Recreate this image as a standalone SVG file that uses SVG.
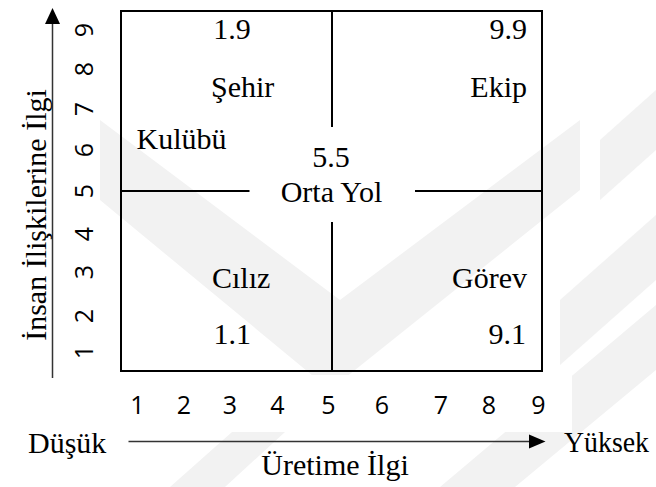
<svg xmlns="http://www.w3.org/2000/svg" width="656" height="487" viewBox="0 0 656 487">
  <style>
    .serif { font-family: "Liberation Serif", "Times New Roman", serif; font-size: 30px; fill: #000; }
    .num { font-family: "Open Sans", "Liberation Sans", sans-serif; font-size: 25px; fill: #000; }
    .wm { fill: #f2f2f2; }
    .box { fill: none; stroke: #000; stroke-width: 2; }
    .div { stroke: #000; stroke-width: 2; fill: none; }
    .axis { stroke: #333; stroke-width: 1.5; fill: none; }
  </style>
  <rect width="656" height="487" fill="#fff"/>
  <g id="watermark">
    <polygon class="wm" points="100,120 340,300 580,120 580,190 330,390 100,200"/>
    <polygon class="wm" points="600,140 656,90 656,150 600,200"/>
    <polygon class="wm" points="560,300 656,215 656,280 560,365"/>
    <polygon class="wm" points="440,487 656,305 656,370 515,487"/>
    <polygon class="wm" points="170,487 232,432 285,432 225,487"/>
  </g>
  <rect x="249.5" y="127" width="165" height="95" fill="#fff"/>
  <rect x="118" y="375" width="454" height="57" fill="#fff"/>
  <g id="grid">
    <rect class="box" x="121" y="11" width="421" height="360"/>
    <line class="div" x1="332" y1="11" x2="332" y2="127"/>
    <line class="div" x1="332" y1="222" x2="332" y2="371"/>
    <line class="div" x1="121" y1="191" x2="249.5" y2="191"/>
    <line class="div" x1="415" y1="191" x2="542" y2="191"/>
  </g>
  <g id="connectors">
    <line class="axis" x1="52.5" y1="378" x2="52.5" y2="22"/>
    <polygon points="52.5,8 45,24 60,24" fill="#000"/>
    <line class="axis" x1="128.5" y1="441.5" x2="531" y2="441.5"/>
    <polygon points="545.5,441.5 529,434.5 529,448.5" fill="#000"/>
  </g>
  <g id="node-sehir">
    <text class="serif" x="232" y="39" text-anchor="middle">1.9</text>
    <text class="serif" x="211" y="97">Şehir</text>
    <text class="serif" x="136.5" y="148.5">Kulübü</text>
  </g>
  <g id="node-ekip">
    <text class="serif" x="527" y="39" text-anchor="end">9.9</text>
    <text class="serif" x="527" y="97" text-anchor="end">Ekip</text>
  </g>
  <g id="node-orta">
    <text class="serif" x="331" y="166.5" text-anchor="middle">5.5</text>
    <text class="serif" x="331.5" y="202" text-anchor="middle">Orta Yol</text>
  </g>
  <g id="node-ciliz">
    <text class="serif" x="212" y="288">Cılız</text>
    <text class="serif" x="213.5" y="344">1.1</text>
  </g>
  <g id="node-gorev">
    <text class="serif" x="527" y="288" text-anchor="end">Görev</text>
    <text class="serif" x="526" y="344" text-anchor="end">9.1</text>
  </g>
  <g id="x-scale">
    <text class="num" x="137.5" y="414" text-anchor="middle">1</text>
    <text class="num" x="184" y="414" text-anchor="middle">2</text>
    <text class="num" x="230" y="414" text-anchor="middle">3</text>
    <text class="num" x="277.5" y="414" text-anchor="middle">4</text>
    <text class="num" x="328.5" y="414" text-anchor="middle">5</text>
    <text class="num" x="382" y="414" text-anchor="middle">6</text>
    <text class="num" x="441" y="414" text-anchor="middle">7</text>
    <text class="num" x="489" y="414" text-anchor="middle">8</text>
    <text class="num" x="538.5" y="414" text-anchor="middle">9</text>
  </g>
  <g id="y-scale">
    <text class="num" transform="translate(93,352) rotate(-90)" text-anchor="middle">1</text>
    <text class="num" transform="translate(93,316) rotate(-90)" text-anchor="middle">2</text>
    <text class="num" transform="translate(93,272) rotate(-90)" text-anchor="middle">3</text>
    <text class="num" transform="translate(93,234) rotate(-90)" text-anchor="middle">4</text>
    <text class="num" transform="translate(93,191) rotate(-90)" text-anchor="middle">5</text>
    <text class="num" transform="translate(93,150) rotate(-90)" text-anchor="middle">6</text>
    <text class="num" transform="translate(93,109) rotate(-90)" text-anchor="middle">7</text>
    <text class="num" transform="translate(93,69) rotate(-90)" text-anchor="middle">8</text>
    <text class="num" transform="translate(93,30) rotate(-90)" text-anchor="middle">9</text>
  </g>
  <g id="labels">
    <text class="serif" transform="translate(46,215) rotate(-90)" text-anchor="middle">İnsan İlişkilerine İlgi</text>
    <text class="serif" x="28" y="452.5">Düşük</text>
    <text class="serif" x="564" y="452" textLength="85" lengthAdjust="spacingAndGlyphs">Yüksek</text>
    <text class="serif" x="335" y="475" text-anchor="middle">Üretime İlgi</text>
  </g>
</svg>
